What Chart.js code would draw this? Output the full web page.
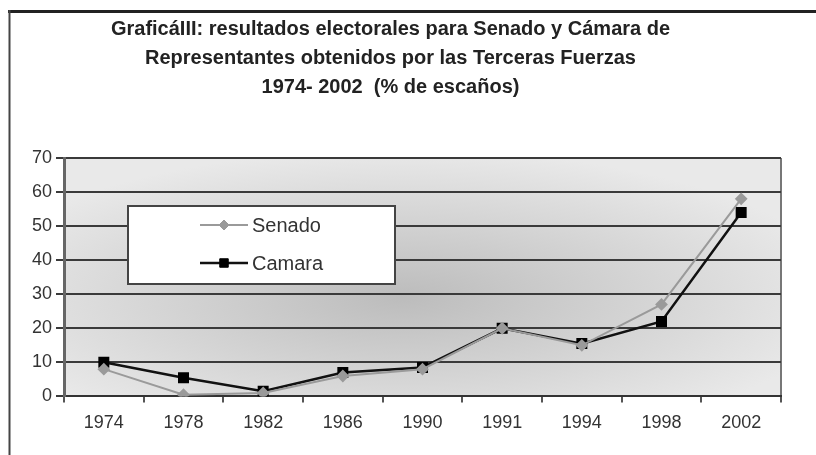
<!DOCTYPE html>
<html>
<head>
<meta charset="utf-8">
<script src="https://cdn.jsdelivr.net/npm/chart.js@4.4.1/dist/chart.umd.min.js"></script>
<style>
  html, body { margin: 0; padding: 0; background: #fff; }
  #wrap { width: 816px; height: 455px; }
</style>
</head>
<body>
<div id="wrap"><canvas id="grafico" width="816" height="455"></canvas></div>
<script>
const anos = ["1974", "1978", "1982", "1986", "1990", "1991", "1994", "1998", "2002"];
const senado = [8, 0.5, 1, 6, 8, 20, 15, 27, 58];
const camara = [10, 5.5, 1.5, 7, 8.5, 20, 15.5, 22, 54];
const titulo = [
  "GraficáIII: resultados electorales para Senado y Cámara de",
  "Representantes obtenidos por las Terceras Fuerzas",
  "1974- 2002  (% de escaños)"
];

const fonte = "'Liberation Sans', Arial, sans-serif";

// fondo degradado del area del grafico y marco exterior
const fondo = {
  id: "fondo",
  beforeDraw(chart) {
    const { ctx, chartArea: a } = chart;
    ctx.save();
    ctx.strokeStyle = "#222";
    ctx.lineWidth = 3;
    ctx.beginPath();
    ctx.moveTo(8, 11.5);
    ctx.lineTo(816, 11.5);
    ctx.stroke();
    ctx.strokeStyle = "#444";
    ctx.lineWidth = 2;
    ctx.beginPath();
    ctx.moveTo(9.5, 10);
    ctx.lineTo(9.5, 455);
    ctx.stroke();

    const cx = (a.left + a.right) / 2 - 20;
    const cy = (a.top + a.bottom) / 2 + 20;
    const w = a.right - a.left;
    const h = a.bottom - a.top;
    ctx.beginPath();
    ctx.rect(a.left, a.top, w, h);
    ctx.clip();
    ctx.translate(cx, cy);
    ctx.scale(w / h, 1);
    const g = ctx.createRadialGradient(0, 0, 0, 0, 0, h * 0.62);
    g.addColorStop(0, "#bcbcbc");
    g.addColorStop(1, "#e9e9e9");
    ctx.fillStyle = g;
    ctx.fillRect(-h, -h, 2 * h, 2 * h);
    ctx.restore();

    ctx.save();
    ctx.strokeStyle = "#777";
    ctx.lineWidth = 2;
    ctx.beginPath();
    ctx.moveTo(a.right, a.top);
    ctx.lineTo(a.right, a.bottom);
    ctx.stroke();
    ctx.restore();
  }
};

// leyenda dentro del area del grafico
const leyenda = {
  id: "leyenda",
  afterDatasetsDraw(chart) {
    const { ctx, chartArea: a } = chart;
    const x = a.left + 64, y = a.top + 48, w = 267, h = 78;
    ctx.save();
    ctx.fillStyle = "#fff";
    ctx.fillRect(x, y, w, h);
    ctx.strokeStyle = "#444";
    ctx.lineWidth = 2;
    ctx.strokeRect(x, y, w, h);
    chart.data.datasets.forEach((ds, i) => {
      const ly = y + 19 + i * 38;
      const x0 = x + 72, x1 = x + 120;
      ctx.strokeStyle = ds.borderColor;
      ctx.lineWidth = ds.borderWidth;
      ctx.beginPath();
      ctx.moveTo(x0, ly);
      ctx.lineTo(x1, ly);
      ctx.stroke();
      ctx.fillStyle = ds.pointBackgroundColor;
      ctx.strokeStyle = ds.pointBorderColor;
      ctx.lineWidth = 1;
      Chart.helpers.drawPoint(ctx, {
        pointStyle: ds.pointStyle,
        radius: ds.pointRadius,
        borderWidth: 1
      }, (x0 + x1) / 2, ly);
      ctx.fillStyle = "#333";
      ctx.font = "20px " + fonte;
      ctx.textBaseline = "middle";
      ctx.fillText(ds.label, x1 + 4, ly + 1);
    });
    ctx.restore();
  }
};

new Chart(document.getElementById("grafico"), {
  type: "line",
  data: {
    labels: anos,
    datasets: [
      {
        label: "Senado",
        data: senado,
        borderColor: "#9a9a9a",
        backgroundColor: "#9a9a9a",
        pointBackgroundColor: "#9a9a9a",
        pointBorderColor: "#9a9a9a",
        borderWidth: 2,
        pointStyle: "rectRot",
        pointRadius: 5,
        tension: 0
      },
      {
        label: "Camara",
        data: camara,
        borderColor: "#111",
        backgroundColor: "#000",
        pointBackgroundColor: "#000",
        pointBorderColor: "#000",
        borderWidth: 2.5,
        pointStyle: "rect",
        pointRadius: 6,
        tension: 0
      }
    ]
  },
  options: {
    responsive: false,
    animation: false,
    layout: { padding: { left: 0, right: 35, top: 0, bottom: 11 } },
    plugins: {
      legend: { display: false },
      tooltip: { enabled: false },
      title: {
        display: true,
        text: titulo,
        color: "#222",
        font: { family: fonte, size: 20, weight: "bold", lineHeight: 1.45 },
        padding: { top: 15, bottom: 56 }
      }
    },
    scales: {
      x: {
        offset: true,
        grid: {
          offset: true,
          drawOnChartArea: false,
          drawTicks: true,
          tickLength: 6,
          color: "#555",
          lineWidth: 2
        },
        border: { display: true, color: "#333", width: 2 },
        ticks: {
          color: "#333",
          font: { family: fonte, size: 18 },
          padding: 10,
          maxRotation: 0
        }
      },
      y: {
        min: 0,
        max: 70,
        afterFit(scale) { scale.width = 64; },
        grid: {
          color: "#3a3a3a",
          lineWidth: 2,
          tickLength: 8
        },
        border: { display: true, color: "#666", width: 3 },
        ticks: {
          stepSize: 10,
          color: "#333",
          font: { family: fonte, size: 18 },
          padding: 4
        }
      }
    }
  },
  plugins: [fondo, leyenda]
});
</script>
</body>
</html>
